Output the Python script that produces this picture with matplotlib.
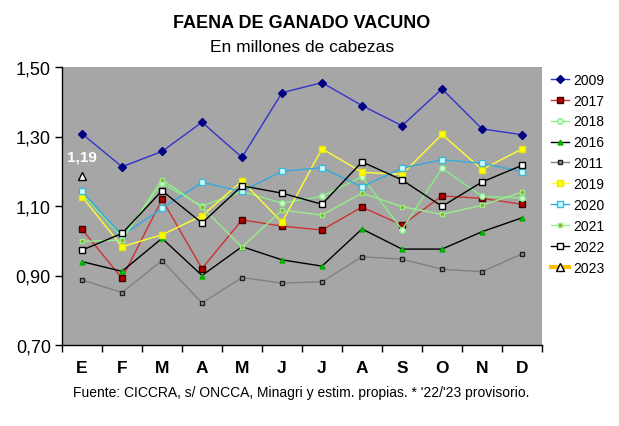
import numpy as np
import matplotlib.pyplot as plt
from matplotlib.ticker import FixedLocator, FuncFormatter

plt.rcParams['font.family'] = ['Liberation Sans', 'DejaVu Sans']

meses = ['E', 'F', 'M', 'A', 'M', 'J', 'J', 'A', 'S', 'O', 'N', 'D']

# millones de cabezas
y2009 = [1.308, 1.213, 1.257, 1.341, 1.240, 1.426, 1.455, 1.389, 1.331, 1.437, 1.322, 1.305]
y2017 = [1.033, 0.892, 1.119, 0.920, 1.060, 1.042, 1.031, 1.097, 1.045, 1.129, 1.122, 1.105]
y2018 = [1.135, 1.010, 1.165, 1.100, 1.142, 1.108, 1.128, 1.184, 1.032, 1.209, 1.128, 1.123]
y2016 = [0.940, 0.912, 1.007, 0.900, 0.983, 0.945, 0.927, 1.034, 0.976, 0.976, 1.026, 1.066]
y2011 = [0.887, 0.851, 0.943, 0.821, 0.894, 0.878, 0.882, 0.954, 0.947, 0.918, 0.911, 0.962]
y2019 = [1.127, 0.983, 1.017, 1.072, 1.172, 1.053, 1.265, 1.197, 1.191, 1.306, 1.205, 1.264]
y2020 = [1.142, 1.015, 1.093, 1.168, 1.142, 1.200, 1.210, 1.155, 1.209, 1.233, 1.223, 1.199]
y2021 = [0.998, 1.002, 1.176, 1.096, 0.982, 1.088, 1.074, 1.137, 1.098, 1.076, 1.102, 1.140]
y2022 = [0.973, 1.021, 1.144, 1.051, 1.158, 1.137, 1.105, 1.227, 1.175, 1.099, 1.169, 1.217]
y2023 = [1.186]

x = np.arange(len(meses))

fig = plt.figure(figsize=(6.19, 4.27), dpi=100)
ax = fig.add_axes([62/619, (427-346)/427, (542-62)/619, (346-68)/427])
ax.set_facecolor('#a6a6a6')

# (label, datos, color linea, marcador, relleno, borde, tamaño, grosor)
series = [
    ('2009', y2009, '#3333cc', 'D', '#000080', '#000080', 4, 1.0),
    ('2017', y2017, '#cc3333', 's', '#b00000', '#400000', 4, 1.0),
    ('2018', y2018, '#88ee88', 'o', '#d8ffd8', '#88ee88', 4, 1.0),
    ('2016', y2016, '#000000', '^', '#00cc00', '#00aa00', 3.5, 1.0),
    ('2011', y2011, '#808080', 's', '#909090', '#202020', 3.5, 1.0),
    ('2019', y2019, '#ffff33', 's', '#ffff00', '#e8e800', 4, 1.0),
    ('2020', y2020, '#33aadd', 's', '#ccffff', '#33bbdd', 4, 1.0),
    ('2021', y2021, '#99ee88', 's', '#a09a20', '#99ee88', 3.5, 1.0),
    ('2022', y2022, '#000000', 's', '#ffffff', '#000000', 4, 1.0),
    ('2023', y2023, '#ffc000', '^', '#ffffff', '#000000', 6, 3.0),
]

for lab, vals, col, mk, fc, ec, ms, lw in series:
    ax.plot(x[:len(vals)], vals, color=col, lw=lw, marker=mk, ms=ms,
            mfc=fc, mec=ec, mew=1.0, label=lab)

ax.text(x[0], y2023[0] + 0.035, f"{y2023[0]:.2f}".replace('.', ','),
        color='white', fontsize=11, fontweight='bold', ha='center', va='bottom')

ax.set_xlim(-0.5, 11.5)
ax.set_ylim(0.70, 1.50)
ax.yaxis.set_major_locator(FixedLocator([0.70, 0.90, 1.10, 1.30, 1.50]))
ax.yaxis.set_major_formatter(FuncFormatter(lambda v, p: f"{v:.2f}".replace('.', ',')))
ax.set_xticks(x)
ax.set_xticklabels(meses)
ax.set_xticks(np.arange(-0.5, 12, 1), minor=True)
ax.tick_params(axis='x', which='major', length=0, pad=11, labelsize=12.5)
ax.tick_params(axis='x', which='minor', length=5, width=1, direction='out')
ax.tick_params(axis='y', length=5, width=1, labelsize=13, pad=3)
for t in ax.get_xticklabels():
    t.set_fontweight('bold')
for s in ['top', 'right']:
    ax.spines[s].set_visible(False)
ax.spines['left'].set_linewidth(1)
ax.spines['bottom'].set_linewidth(1)

fig.text(302/619, 1 - 24/427, 'FAENA DE GANADO VACUNO', ha='center', va='center',
         fontsize=13, fontweight='bold')
fig.text(302/619, 1 - 47/427, 'En millones de cabezas', ha='center', va='center',
         fontsize=12.5)
fig.text(301/619, 1 - 393/427,
         "Fuente: CICCRA, s/ ONCCA, Minagri y estim. propias. * '22/'23 provisorio.",
         ha='center', va='center', fontsize=10)

fig.legend(loc='upper left', bbox_to_anchor=(545/619, 1 - 68/427), frameon=False,
           fontsize=10, handlelength=1.3, handletextpad=0.3, labelspacing=0.5,
           borderaxespad=0)

fig.savefig('out.png', dpi=100, facecolor='white')
